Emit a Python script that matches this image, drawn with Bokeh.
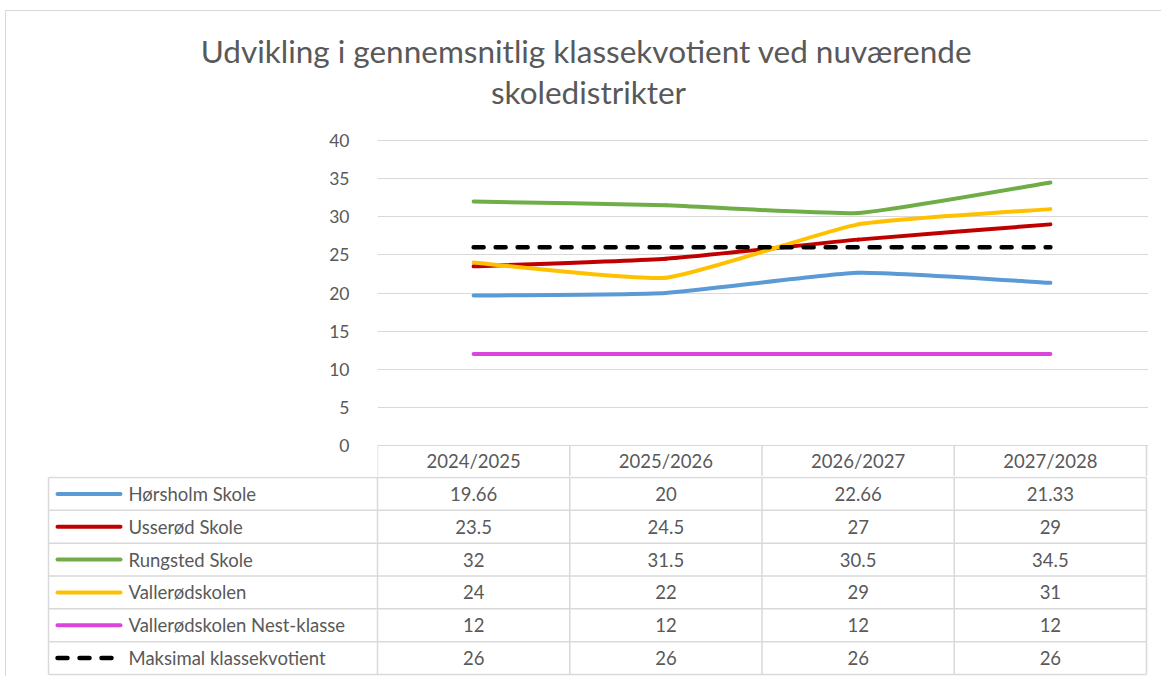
from bokeh.plotting import figure
from bokeh.models import Range1d, FixedTicker, ColumnDataSource
from bokeh.core.properties import value
from bokeh.embed import file_html
from bokeh.resources import INLINE

# ---------------- data ----------------
title_lines = ["Udvikling i gennemsnitlig klassekvotient ved nuværende", "skoledistrikter"]
categories = ["2024/2025", "2025/2026", "2026/2027", "2027/2028"]
series_names = ["Hørsholm Skole", "Usserød Skole", "Rungsted Skole", "Vallerødskolen",
                "Vallerødskolen Nest-klasse", "Maksimal klassekvotient"]
hoersholm = [19.66, 20, 22.66, 21.33]
usseroed = [23.5, 24.5, 27, 29]
rungsted = [32, 31.5, 30.5, 34.5]
valleroed = [24, 22, 29, 31]
valleroed_nest = [12, 12, 12, 12]
maksimal = [26, 26, 26, 26]
y_ticks = [0, 5, 10, 15, 20, 25, 30, 35, 40]

series_values = [hoersholm, usseroed, rungsted, valleroed, valleroed_nest, maksimal]
series_colors = ["#5B9BD5", "#C00000", "#70AD47", "#FFC000", "#DA46DA", "#000000"]
series_dash = ["solid", "solid", "solid", "solid", "solid", "10 12"]

# ---------------- layout constants (page pixels) ----------------
FONT = "Lato"
TXT = "#595959"
GRID = "#d9d9d9"
OX, OY = 6, 11               # content origin (after CSS border)
PAGE_W = 1162
W = PAGE_W - OX
COL_L, COL_R = 377, 1146
col_w = (COL_R - COL_L) / 4.0
Y0 = 446                     # pixel of value 0
PX = (446 - 141) / 40.0      # pixels per unit
TABLE_L = 48
ROW_TOP, ROW_BOT = 478, 675
row_h = (ROW_BOT - ROW_TOP) / 6.0
SMOOTH = 0.08

T_TOP, A_TOP, B_TOP, B_BOT = OY, 130, 477, 677
BORDER = "1px solid #d9d9d9"

# ---------------- title figure ----------------
ft = figure(width=W, height=A_TOP - T_TOP, output_backend="svg", toolbar_location=None,
            title=None, x_axis_location=None, y_axis_location=None,
            x_range=Range1d(0, W), y_range=Range1d(A_TOP - T_TOP, 0),
            min_border=0, outline_line_color=None,
            styles={"margin-left": "5px", "margin-top": "10px",
                    "border-left": BORDER, "border-top": BORDER})
ft.grid.visible = False
ft.text(x=[586 - OX, 588 - OX], y=[50 - OY, 91 - OY], text=title_lines,
        text_font=value(FONT), text_font_size="31.5px", text_color=TXT,
        text_align="center", text_baseline="alphabetic")

# ---------------- chart figure ----------------
a_h = B_TOP - A_TOP
a_top_border = 3
y_end = (Y0 - (A_TOP + a_top_border)) / PX
y_start = (Y0 - B_TOP) / PX
fa = figure(width=W, height=a_h, output_backend="svg", toolbar_location=None,
            title=None, x_axis_location=None,
            x_range=Range1d(-0.5, 3.5 + 2 / col_w), y_range=Range1d(y_start, y_end),
            min_border_left=COL_L - OX, min_border_right=PAGE_W - (COL_R + 2),
            min_border_top=a_top_border, min_border_bottom=0, outline_line_color=None,
            styles={"margin-left": "5px", "border-left": BORDER})
fa.xgrid.visible = False
fa.ygrid.grid_line_color = GRID
fa.ygrid.grid_line_width = 1
fa.yaxis.ticker = FixedTicker(ticks=y_ticks)
fa.yaxis.axis_line_color = None
fa.yaxis.major_tick_line_color = None
fa.yaxis.minor_tick_line_color = None
fa.yaxis.major_label_standoff = 22
fa.yaxis.major_label_text_font = FONT
fa.yaxis.major_label_text_font_size = "17.5px"
fa.yaxis.major_label_text_color = TXT

xs = list(range(len(categories)))

# header row (category labels inside boxes)
nb = len(categories) + 1
fa.segment(x0=[i - 0.5 for i in range(nb)], y0=[0] * nb,
           x1=[i - 0.5 for i in range(nb)], y1=[y_start] * nb,
           line_color=GRID, line_width=1.5)
fa.text(x=xs, y=[(0 + y_start) / 2] * len(categories), text=categories,
        text_font=value(FONT), text_font_size="18.5px", text_color=TXT,
        text_align="center", text_baseline="middle")


def smooth_controls(vals):
    n = len(vals)
    d = {k: [] for k in ("x0", "y0", "x1", "y1", "cx0", "cy0", "cx1", "cy1")}
    for i in range(n - 1):
        pi = i - 1 if i > 0 else i
        pn = i + 2 if i + 2 < n else i + 1
        d["x0"].append(i); d["y0"].append(vals[i])
        d["x1"].append(i + 1); d["y1"].append(vals[i + 1])
        d["cx0"].append(i + (i + 1 - pi) * SMOOTH)
        d["cy0"].append(vals[i] + (vals[i + 1] - vals[pi]) * SMOOTH)
        d["cx1"].append(i + 1 - (pn - i) * SMOOTH)
        d["cy1"].append(vals[i + 1] - (vals[pn] - vals[i]) * SMOOTH)
    return d


for vals, col, dash in zip(series_values, series_colors, series_dash):
    if dash == "solid":
        fa.bezier(source=ColumnDataSource(smooth_controls(vals)), x0="x0", y0="y0", x1="x1", y1="y1",
                  cx0="cx0", cy0="cy0", cx1="cx1", cy1="cy1",
                  line_color=col, line_width=4, line_cap="round")
    else:
        fa.line(xs, vals, line_color=col, line_width=4.5, line_dash=dash, line_cap="round")

# ---------------- data table figure ----------------
b_h = B_BOT - B_TOP
x_left = -0.5 - (COL_L - (TABLE_L - 2)) / col_w
table_left = -0.5 - (COL_L - TABLE_L) / col_w
fb = figure(width=W, height=b_h, output_backend="svg", toolbar_location=None,
            title=None, x_axis_location=None, y_axis_location=None,
            x_range=Range1d(x_left, 3.5 + 2 / col_w),
            y_range=Range1d(5.5 + (B_BOT - ROW_BOT) / row_h, -0.5 - (ROW_TOP - B_TOP) / row_h),
            min_border_left=TABLE_L - 2 - OX, min_border_right=PAGE_W - (COL_R + 2),
            min_border_top=0, min_border_bottom=0, outline_line_color=None,
            styles={"margin-left": "5px", "border-left": BORDER})
fb.grid.visible = False

nrows = len(series_names)
# horizontal rules
fb.segment(x0=[table_left] * (nrows + 1), y0=[r - 0.5 for r in range(nrows + 1)],
           x1=[3.5] * (nrows + 1), y1=[r - 0.5 for r in range(nrows + 1)],
           line_color=GRID, line_width=1.5)
# vertical rules
vx = [table_left] + [i - 0.5 for i in range(len(categories) + 1)]
fb.segment(x0=vx, y0=[-0.5] * len(vx), x1=vx, y1=[nrows - 0.5] * len(vx),
           line_color=GRID, line_width=1.5)

# legend keys
for r, (col, dash) in enumerate(zip(series_colors, series_dash)):
    fb.segment(x0=[table_left + 9 / col_w], y0=[r], x1=[table_left + 72 / col_w], y1=[r],
               line_color=col, line_width=4 if dash == "solid" else 4.5,
               line_dash=dash, line_cap="round")
fb.text(x=[table_left + 80 / col_w] * nrows, y=list(range(nrows)), text=series_names,
        text_font=value(FONT), text_font_size="18.5px", text_color=TXT,
        text_align="left", text_baseline="middle")

cell_x, cell_y, cell_t = [], [], []
for r, vals in enumerate(series_values):
    for c, v in enumerate(vals):
        cell_x.append(c); cell_y.append(r); cell_t.append(f"{v:g}")
fb.text(x=cell_x, y=cell_y, text=cell_t,
        text_font=value(FONT), text_font_size="18.5px", text_color=TXT,
        text_align="center", text_baseline="middle")

open("out.html", "w").write(file_html([ft, fa, fb], INLINE))
